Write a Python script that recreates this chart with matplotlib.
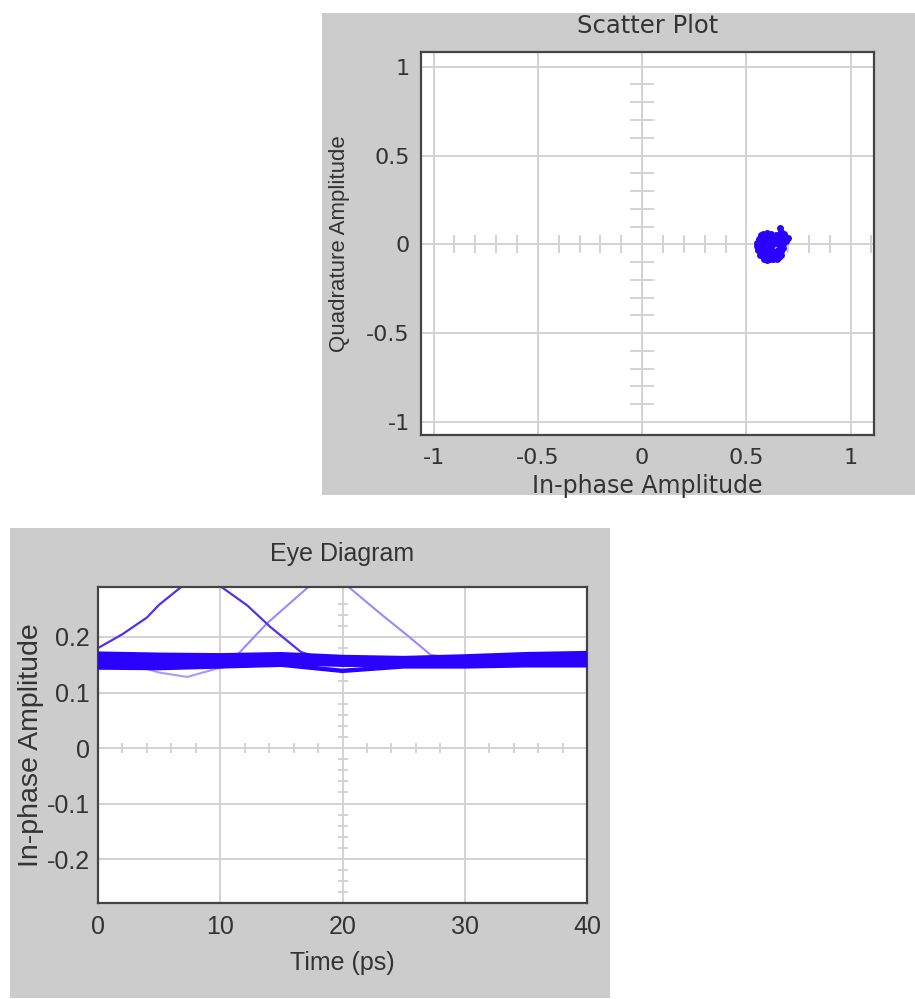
import numpy as np
import matplotlib
matplotlib.use("Agg")
import matplotlib.pyplot as plt
from matplotlib.patches import Rectangle

# ---------------- data ----------------
# Scatter plot (constellation) points
scatter_i = [0.56, 0.57, 0.58, 0.60, 0.62, 0.64, 0.655, 0.665, 0.662, 0.68, 0.70, 0.69,
             0.55, 0.565, 0.58, 0.595, 0.61, 0.625, 0.64, 0.655, 0.67,
             0.55, 0.565, 0.58, 0.60, 0.615, 0.63, 0.645, 0.66, 0.675,
             0.555, 0.57, 0.585, 0.60, 0.62, 0.635, 0.65, 0.665, 0.675,
             0.565, 0.58, 0.595, 0.61, 0.625, 0.64, 0.655, 0.668,
             0.585, 0.60, 0.615, 0.63, 0.645,
             0.575, 0.605, 0.635, 0.59, 0.65, 0.61, 0.62, 0.57]
scatter_q = [0.03, 0.05, 0.06, 0.065, 0.06, 0.055, 0.05, 0.07, 0.094, 0.06, 0.034, 0.02,
             0.01, 0.015, 0.02, 0.03, 0.035, 0.04, 0.03, 0.025, 0.03,
             -0.01, -0.005, 0.0, 0.005, -0.01, 0.0, 0.01, -0.005, 0.0,
             -0.03, -0.035, -0.025, -0.04, -0.03, -0.045, -0.03, -0.04, -0.02,
             -0.06, -0.065, -0.07, -0.06, -0.065, -0.06, -0.07, -0.06,
             -0.085, -0.09, -0.08, -0.085, -0.08,
             0.045, 0.05, 0.045, -0.05, -0.05, 0.015, -0.015, -0.015]

scatter_ticks = [-1, -0.5, 0, 0.5, 1]
scatter_ticklabels = ["-1", "-0.5", "0", "0.5", "1"]

# Eye diagram: band traces sampled every 5 ps
band_t = [0, 5, 10, 15, 20, 25, 30, 35, 40]
band_1 = [0.167, 0.164, 0.163, 0.165, 0.162, 0.160, 0.162, 0.166, 0.168]
band_2 = [0.161, 0.158, 0.157, 0.160, 0.157, 0.155, 0.157, 0.160, 0.162]
band_3 = [0.155, 0.153, 0.152, 0.156, 0.153, 0.152, 0.153, 0.156, 0.158]
band_4 = [0.150, 0.148, 0.150, 0.153, 0.150, 0.150, 0.150, 0.152, 0.154]
band_5 = [0.145, 0.144, 0.147, 0.150, 0.139, 0.147, 0.147, 0.149, 0.149]
band_6 = [0.170, 0.168, 0.167, 0.169, 0.164, 0.162, 0.165, 0.169, 0.171]

# transition traces
trace_a_t = [0, 2, 4, 5, 6.8, 8.5, 10.1, 12.2, 14.1, 16.6, 18, 20, 25, 30, 35, 40]
trace_a_v = [0.18, 0.205, 0.235, 0.258, 0.29, 0.32, 0.29, 0.257, 0.218, 0.173, 0.163,
             0.158, 0.155, 0.152, 0.155, 0.158]
trace_b_t = [0, 5, 10, 11.4, 13.8, 17.2, 18.8, 20.5, 23.1, 25.3, 27.2, 30, 35, 40]
trace_b_v = [0.155, 0.152, 0.155, 0.168, 0.224, 0.29, 0.31, 0.29, 0.242, 0.203, 0.168,
             0.158, 0.155, 0.156]
trace_c_t = [0, 3.4, 5, 7.3, 9.7, 12, 15, 20, 25, 30, 35, 40]
trace_c_v = [0.150, 0.146, 0.136, 0.128, 0.143, 0.152, 0.153, 0.150, 0.152, 0.150,
             0.153, 0.155]

eye_xticks = [0, 10, 20, 30, 40]
eye_xticklabels = ["0", "10", "20", "30", "40"]
eye_yticks = [-0.2, -0.1, 0, 0.1, 0.2]
eye_yticklabels = ["-0.2", "-0.1", "0", "0.1", "0.2"]

# ---------------- styling ----------------
W, H = 915, 999
fig = plt.figure(figsize=(W / 100, H / 100), dpi=100)
fig.patch.set_facecolor("white")

PANEL = "#cccccc"
GRID = "#d0d0d0"
TXT = "#333333"
FRAME = "#444444"

def px_rect(x0, y0, x1, y1):
    return [x0 / W, 1 - y1 / H, (x1 - x0) / W, (y1 - y0) / H]

# grey panels on a background axes
bg = fig.add_axes([0, 0, 1, 1], zorder=-10)
bg.set_xlim(0, W)
bg.set_ylim(H, 0)
bg.axis("off")
for (x0, y0, x1, y1) in [(322, 13, 915, 495), (10, 528, 610, 998)]:
    bg.add_patch(Rectangle((x0, y0), x1 - x0, y1 - y0, facecolor=PANEL, edgecolor="none"))

def style_axes(ax):
    ax.set_facecolor("white")
    for s in ax.spines.values():
        s.set_color(FRAME)
        s.set_linewidth(1.6)
    ax.tick_params(length=0, colors=TXT)
    ax.grid(True, color=GRID, linewidth=1.3)
    ax.set_axisbelow(True)

# ---------------- scatter plot ----------------
sfont = ["DejaVu Sans"]
ax1 = fig.add_axes(px_rect(421, 52, 874, 435))
style_axes(ax1)
ax1.set_xlim(-1.06, 1.112)
ax1.set_ylim(-1.074, 1.083)
ax1.set_xticks(scatter_ticks)
ax1.set_xticklabels(scatter_ticklabels, family=sfont, fontsize=16, color=TXT)
ax1.set_yticks(scatter_ticks)
ax1.set_yticklabels(scatter_ticklabels, family=sfont, fontsize=16, color=TXT)
ax1.tick_params(axis="x", pad=9)
ax1.tick_params(axis="y", pad=8)

# crosshair minor ticks
sx = [v / 10 for v in range(-9, 12) if v not in (-10, -5, 0, 5, 10)]
sy = [v / 10 for v in range(-9, 10) if v not in (-5, 0, 5)]
ax1.plot(sx, [0] * len(sx), ls="none", marker="|", markersize=13, mew=1.3, color=GRID, zorder=1)
ax1.plot([0] * len(sy), sy, ls="none", marker="_", markersize=17, mew=1.3, color=GRID, zorder=1)

ax1.plot(scatter_i, scatter_q, ls="none", marker="o", markersize=5, mew=0,
         color="#2a00ff", zorder=3)

ax1.set_title("Scatter Plot", family=sfont, fontsize=17.5, color=TXT, pad=13.5)
ax1.set_xlabel("In-phase Amplitude", family=sfont, fontsize=17, color=TXT, labelpad=5)
ax1.set_ylabel("Quadrature Amplitude", family=["Liberation Sans", "DejaVu Sans"],
               fontsize=16, color=TXT, labelpad=12)

# ---------------- eye diagram ----------------
efont = ["Liberation Sans", "DejaVu Sans"]
ax2 = fig.add_axes(px_rect(98, 587, 587, 903))
style_axes(ax2)
ax2.set_xlim(0, 40)
ax2.set_ylim(-0.279, 0.29)
ax2.set_xticks(eye_xticks)
ax2.set_xticklabels(eye_xticklabels, family=efont, fontsize=18, color=TXT)
ax2.set_yticks(eye_yticks)
ax2.set_yticklabels(eye_yticklabels, family=efont, fontsize=18, color=TXT)
ax2.tick_params(axis="x", pad=9)
ax2.tick_params(axis="y", pad=6)

ex = [v for v in range(2, 40, 2) if v not in (10, 20, 30)]
ey = [v / 100 for v in range(-26, 28, 2) if v not in (-20, -10, 0, 10, 20)]
ax2.plot(ex, [0] * len(ex), ls="none", marker="|", markersize=7, mew=1.3, color=GRID, zorder=1)
ax2.plot([20] * len(ey), ey, ls="none", marker="_", markersize=7, mew=1.3, color=GRID, zorder=1)

for band in [band_1, band_2, band_3, band_4, band_5, band_6]:
    ax2.plot(band_t, band, color="#2a00ff", lw=3.2, zorder=3)
ax2.plot(trace_c_t, trace_c_v, color="#a898ff", lw=1.5, zorder=2)
ax2.plot(trace_b_t, trace_b_v, color="#9a88ff", lw=1.5, zorder=2)
ax2.plot(trace_a_t, trace_a_v, color="#5530e8", lw=1.6, zorder=2)

ax2.set_title("Eye Diagram", family=efont, fontsize=18, color=TXT, pad=19)
ax2.set_xlabel("Time (ps)", family=efont, fontsize=18, color=TXT, labelpad=8)
ax2.set_ylabel("In-phase Amplitude", family=efont,
               fontsize=20.5, color=TXT, labelpad=2)

fig.savefig("out.png", dpi=100, facecolor="white")
